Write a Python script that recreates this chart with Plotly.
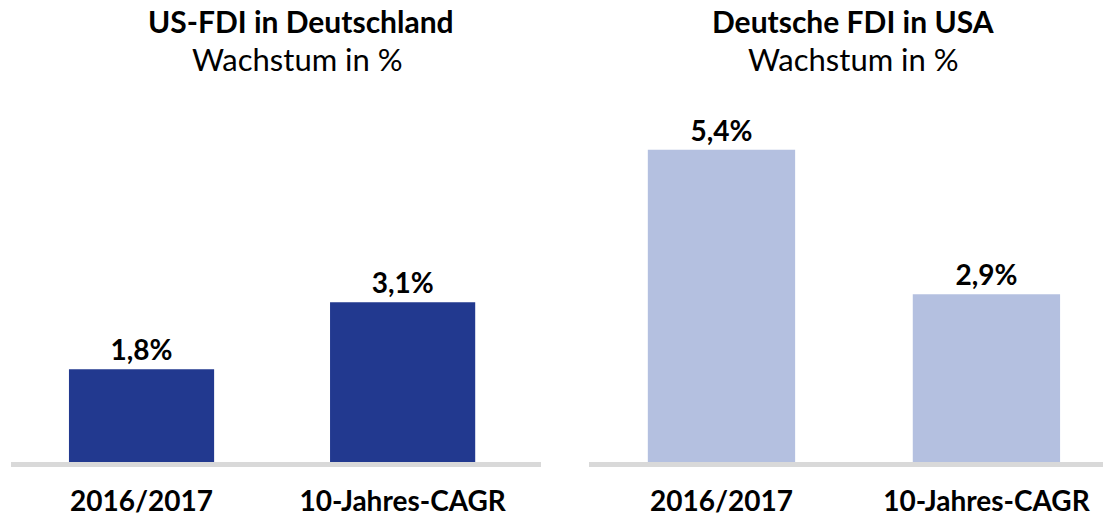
import plotly.graph_objects as go
from plotly.subplots import make_subplots

categories = ["2016/2017", "10-Jahres-CAGR"]
us_in_de = [1.8, 3.1]
de_in_us = [5.4, 2.9]
label_us = ["1,8%", "3,1%"]
label_de = ["5,4%", "2,9%"]
titles = ["US-FDI in Deutschland", "Deutsche FDI in USA"]
subtitle = "Wachstum in %"

W, H = 1103, 517
FONT = "Lato"
FS_TICK = 28
FS_LABEL = 28
FS_TITLE = 30
FS_SUB = 31

fig = make_subplots(rows=1, cols=2)

fig.add_trace(go.Bar(x=categories, y=us_in_de, text=label_us, textposition="outside",
                     marker=dict(color="#22398F", line=dict(width=0)), width=0.556,
                     textfont=dict(family=FONT, size=FS_LABEL, color="black", weight="bold"),
                     cliponaxis=False, showlegend=False, hoverinfo="skip"), row=1, col=1)
fig.add_trace(go.Bar(x=categories, y=de_in_us, text=label_de, textposition="outside",
                     marker=dict(color="#B4C0E0", line=dict(width=0)), width=0.556,
                     textfont=dict(family=FONT, size=FS_LABEL, color="black", weight="bold"),
                     cliponaxis=False, showlegend=False, hoverinfo="skip"), row=1, col=2)

ml, mr, mt, mb = 11, 0, 120, 48
pw = W - ml - mr
ph = H - mt - mb
fig.update_layout(
    width=W, height=H,
    margin=dict(l=ml, r=mr, t=mt, b=mb),
    plot_bgcolor="white", paper_bgcolor="white",
    font=dict(family=FONT, size=FS_TICK, color="black"),
    xaxis=dict(domain=[0, (541 - ml) / pw], range=[-0.5, 1.53]),
    xaxis2=dict(domain=[(589 - ml) / pw, 1], range=[-0.5, 1.44]),
    yaxis=dict(range=[0, ph / 52.6]),
    yaxis2=dict(range=[0, ph / 59.0]),
)
for ax in ["xaxis", "xaxis2"]:
    fig.layout[ax].update(showline=True, linecolor="#D9D9D9", linewidth=5,
                          showgrid=False, zeroline=False, ticks="", ticklabelstandoff=10,
                          tickfont=dict(family=FONT, size=FS_TICK, color="black", weight="bold"))
for ax in ["yaxis", "yaxis2"]:
    fig.layout[ax].update(visible=False, showgrid=False, zeroline=False)

def px_x(p):
    return (p - ml) / pw

def px_y(p):
    return (H - mb - p) / ph

title_x = [301, 853]
sub_x = [297, 853]
for tx, sx, t in zip(title_x, sub_x, titles):
    fig.add_annotation(x=px_x(tx), y=px_y(19), xref="paper", yref="paper", text=f"<b>{t}</b>",
                       showarrow=False, font=dict(family=FONT, size=FS_TITLE, color="black"),
                       xanchor="center", yanchor="middle")
    fig.add_annotation(x=px_x(sx), y=px_y(58), xref="paper", yref="paper", text=subtitle,
                       showarrow=False, font=dict(family=FONT, size=FS_SUB, color="black"),
                       xanchor="center", yanchor="middle")

fig.write_html("out.html", config={"displayModeBar": False},
               post_script="document.body.style.margin='0';")
